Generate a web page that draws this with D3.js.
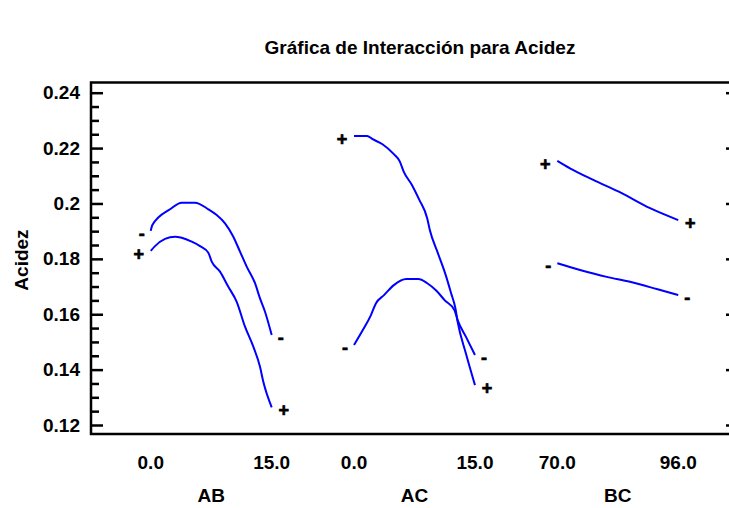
<!DOCTYPE html>
<html>
<head>
<meta charset="utf-8">
<script src="https://cdn.jsdelivr.net/npm/d3@7"></script>
<style>
  body { margin: 0; background: #fff; }
  svg { display: block; }
  text { font-family: "Liberation Sans", Arial, sans-serif; font-weight: bold; fill: #000; }
  .frame { fill: none; stroke: #000; stroke-width: 2.5; }
  .axis path { display: none; }
  .axis line { stroke: #000; stroke-width: 2.5; }
  .axis text { font-size: 19px; }
  .curve { fill: none; stroke: #0000ff; stroke-width: 2; }
  .marker { stroke: #000; stroke-width: 0.7; }
</style>
</head>
<body>
<svg width="729" height="508"></svg>
<script>
// factors on the x axis and their levels
var factors = ["AB", "AC", "BC"];
var lowLevels = [0.0, 0.0, 70.0];
var highLevels = [15.0, 15.0, 96.0];

var yTicks = [0.12, 0.14, 0.16, 0.18, 0.2, 0.22, 0.24];

// AB interaction
var abMinusX = [0, 0.2, 2.39, 3.84, 5.49, 7.14, 8.18, 9.21, 10.24, 11.07, 11.9, 12.93, 13.55, 14.17, 15];
var abMinusY = [0.1901, 0.1922, 0.1979, 0.2003, 0.2003, 0.1979, 0.1958, 0.1928, 0.188, 0.1826, 0.1772, 0.1712, 0.1657, 0.1609, 0.1525];
var abPlusX = [0, 0.53, 1.77, 3.01, 3.84, 5.08, 6.11, 7.14, 7.56, 8.59, 9.62, 10.66, 11.69, 12.72, 13.55, 13.96, 15];
var abPlusY = [0.1829, 0.1846, 0.1872, 0.188, 0.1876, 0.1862, 0.1846, 0.1822, 0.179, 0.1754, 0.1699, 0.1645, 0.1555, 0.1483, 0.141, 0.1356, 0.1264];

// AC interaction
var acPlusX = [0, 1.62, 2.31, 3.53, 4.94, 5.67, 6.16, 7.18, 8.1, 9.08, 9.4, 10.41, 11.44, 12.04, 12.57, 12.85, 13.87, 15];
var acPlusY = [0.2244, 0.2244, 0.2232, 0.2214, 0.2178, 0.2152, 0.2115, 0.2067, 0.2013, 0.1946, 0.1904, 0.182, 0.1735, 0.1676, 0.1622, 0.1573, 0.1459, 0.1344];
var acMinusX = [0, 1.09, 2.1, 2.71, 3.72, 4.94, 6.48, 7.98, 9.08, 10.22, 11.23, 12.45, 12.85, 13.87, 15];
var acMinusY = [0.1489, 0.1543, 0.1597, 0.1639, 0.1669, 0.1705, 0.1727, 0.1727, 0.1712, 0.1685, 0.1651, 0.1615, 0.1579, 0.1519, 0.1453];

// BC interaction
var bcPlusX = [70, 72.73, 77.74, 83.85, 89.94, 96];
var bcPlusY = [0.2154, 0.2127, 0.2085, 0.2037, 0.1983, 0.194];
var bcMinusX = [70, 74.88, 80.62, 85.63, 91.37, 96];
var bcMinusY = [0.1784, 0.176, 0.1735, 0.1717, 0.1691, 0.1669];

var series = [
  { factor: "AB", sign: "-", x: abMinusX, y: abMinusY },
  { factor: "AB", sign: "+", x: abPlusX, y: abPlusY },
  { factor: "AC", sign: "+", x: acPlusX, y: acPlusY },
  { factor: "AC", sign: "-", x: acMinusX, y: acMinusY },
  { factor: "BC", sign: "+", x: bcPlusX, y: bcPlusY },
  { factor: "BC", sign: "-", x: bcMinusX, y: bcMinusY }
];

var svg = d3.select("svg"),
    width = +svg.attr("width"),
    height = +svg.attr("height");

var plotLeft = 91, plotTop = 82.5, plotBottom = 434, plotRight = 731;

var y = d3.scaleLinear()
    .domain([0.12, 0.24])
    .range([425, 92.7]);

var band = d3.scaleBand()
    .domain(factors)
    .range([104, 725])
    .paddingInner(0.405)
    .paddingOuter(0.23);

function xScale(i) {
  var x0 = band(factors[i]);
  return d3.scaleLinear()
      .domain([lowLevels[i], highLevels[i]])
      .range([x0, x0 + band.bandwidth()]);
}

// title
svg.append("text")
    .attr("x", 420)
    .attr("y", 54)
    .attr("text-anchor", "middle")
    .style("font-size", "19px")
    .text("Gráfica de Interacción para Acidez");

// y axis label
svg.append("text")
    .attr("transform", "translate(28,260) rotate(-90)")
    .attr("text-anchor", "middle")
    .style("font-size", "19px")
    .text("Acidez");

// minor ticks on the left
var minor = d3.range(0.125, 0.24, 0.005).filter(function(v) {
  return Math.abs(v / 0.02 - Math.round(v / 0.02)) > 0.01;
});
svg.append("g")
    .attr("class", "axis")
    .attr("transform", "translate(" + plotLeft + ",0)")
    .call(d3.axisLeft(y).tickValues(minor).tickSize(-8).tickFormat(""));

// major ticks and labels on the left
svg.append("g")
    .attr("class", "axis")
    .attr("transform", "translate(" + plotLeft + ",0)")
    .call(d3.axisLeft(y).tickValues(yTicks).tickSize(-12).tickPadding(11)
      .tickFormat(function(d) { return String(d); }));

// short ticks on the right edge
svg.append("g")
    .attr("class", "axis")
    .attr("transform", "translate(" + plotRight + ",0)")
    .call(d3.axisRight(y).tickValues(yTicks).tickSize(-5).tickFormat(""));

// frame
svg.append("path")
    .attr("class", "frame")
    .attr("d", "M" + plotRight + "," + plotTop + "H" + plotLeft + "V" + plotBottom + "H" + plotRight);

// x tick labels and factor names
factors.forEach(function(f, i) {
  var x = xScale(i);
  svg.append("g")
      .selectAll("text")
      .data([lowLevels[i], highLevels[i]])
      .enter().append("text")
      .attr("x", function(d) { return x(d); })
      .attr("y", 469)
      .attr("text-anchor", "middle")
      .style("font-size", "19px")
      .text(d3.format(".1f"));
  svg.append("text")
      .attr("x", band(f) + band.bandwidth() / 2)
      .attr("y", 502)
      .attr("text-anchor", "middle")
      .style("font-size", "19px")
      .text(f);
});

// draw the interaction curves
series.forEach(function(s) {
  var i = factors.indexOf(s.factor);
  var x = xScale(i);
  var pts = s.x.map(function(v, k) { return [v, s.y[k]]; });
  var line = d3.line()
      .x(function(d) { return x(d[0]); })
      .y(function(d) { return y(d[1]); })
      .curve(d3.curveMonotoneX);
  svg.append("path")
      .datum(pts)
      .attr("class", "curve")
      .attr("d", line);

  // level markers at both ends
  var off = s.sign === "+" ? 12 : 9;
  var ends = [pts[0], pts[pts.length - 1]];
  svg.append("g")
      .selectAll("text")
      .data(ends)
      .enter().append("text")
      .attr("class", "marker")
      .attr("x", function(d, k) { return x(d[0]) + (k === 0 ? -off : off); })
      .attr("y", function(d) { return y(d[1]) + 2.5; })
      .attr("dy", "0.35em")
      .attr("text-anchor", "middle")
      .style("font-size", "18px")
      .text(s.sign);
});
</script>
</body>
</html>
